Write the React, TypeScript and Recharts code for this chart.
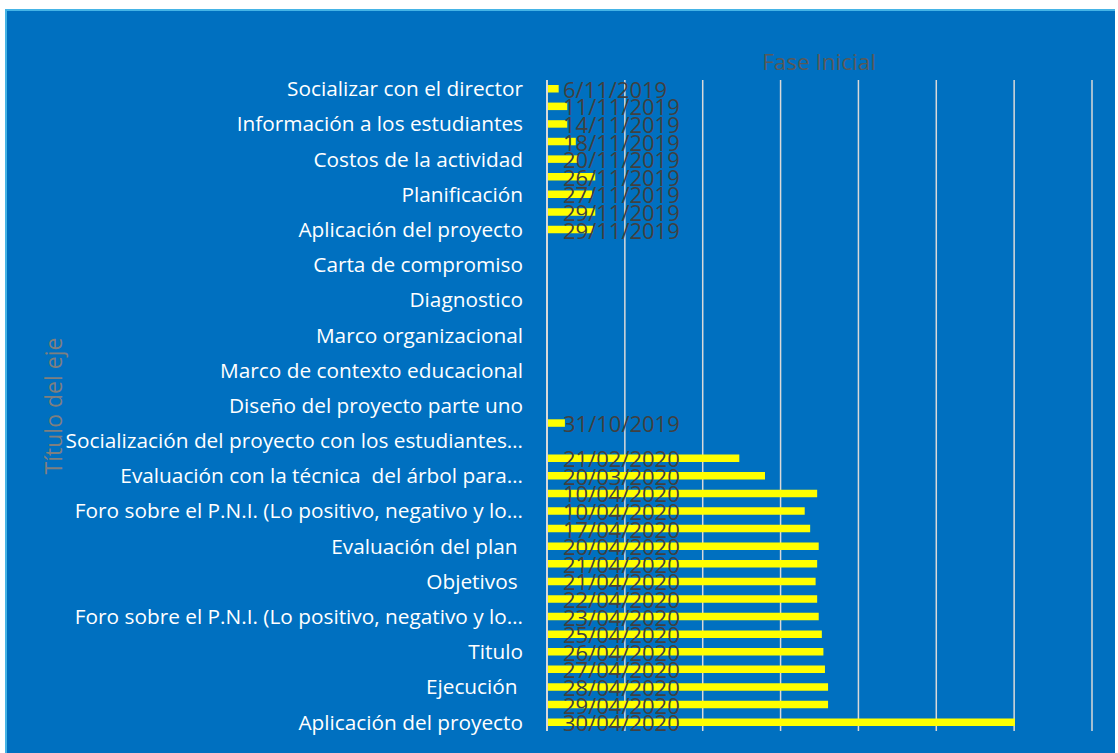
import React from "react";
import { BarChart, Bar, XAxis, YAxis, CartesianGrid, LabelList } from "recharts";

const tasks: string[] = [
  "Socializar con el director", "",
  "Información a los estudiantes", "",
  "Costos de la actividad ", "",
  "Planificación", "",
  "Aplicación del proyecto", "",
  "Carta de compromiso", "",
  "Diagnostico", "",
  "Marco organizacional", "",
  "Marco de contexto educacional", "",
  "Diseño del proyecto parte uno", "",
  "Socialización del proyecto con los estudiantes…", "",
  "Evaluación con la técnica \u00A0del árbol para…", "",
  "Foro sobre el P.N.I. (Lo positivo, negativo y lo…", "",
  "Evaluación del plan\u00A0 ", "",
  "Objetivos\u00A0 ", "",
  "Foro sobre el P.N.I. (Lo positivo, negativo y lo…", "",
  "Titulo", "",
  "Ejecución\u00A0 ", "",
  "Aplicación del proyecto",
];

const values: (number | null)[] = [
  1.5, 2.6, 2.6, 3.7, 4.0, 6.2, 5.8, 6.2, 5.9,
  null, null, null, null, null, null, null, null, null, null,
  2.3,
  null,
  24.7, 28.0, 34.7, 33.1, 33.8, 34.9, 34.7, 34.5, 34.7, 34.9, 35.3, 35.5, 35.7, 36.1, 36.1, 60.1,
];

const dateLabels: string[] = [
  "6/11/2019", "11/11/2019", "14/11/2019", "18/11/2019", "20/11/2019", "26/11/2019", "27/11/2019", "29/11/2019", "29/11/2019",
  "", "", "", "", "", "", "", "", "", "",
  "31/10/2019",
  "",
  "21/02/2020", "20/03/2020", "10/04/2020", "10/04/2020", "17/04/2020", "20/04/2020", "21/04/2020", "21/04/2020",
  "22/04/2020", "23/04/2020", "25/04/2020", "26/04/2020", "27/04/2020", "28/04/2020", "29/04/2020", "30/04/2020",
];

const xTicks = [0, 10, 20, 30, 40, 50, 60, 70];

const data = tasks.map((t, i) => ({ row: i, task: t, value: values[i], date: dateLabels[i] }));

const FONT = "'Open Sans', 'Noto Sans', sans-serif";

const renderLabel = (props: any) => {
  const { x, y, height, value } = props;
  if (!value) return null;
  return (
    <text x={Number(x) + 16} y={Number(y) + Number(height) / 2 + 9} fill="#404040" fontSize={22} fontFamily={FONT}>
      {value}
    </text>
  );
};

export default function App() {
  return (
    <div style={{ position: "absolute", left: 0, top: 0, width: 1118, height: 753, background: "#ffffff", overflow: "hidden" }}>
      <div
        style={{
          position: "absolute",
          left: 5,
          top: 9,
          width: 1110,
          height: 744,
          background: "#0070C0",
          borderTop: "2px solid #45B4E6",
          borderLeft: "2px solid #45B4E6",
          boxSizing: "border-box",
        }}
      />
      <div style={{ position: "absolute", left: 5, top: 9 }}>
        <BarChart
          width={1110}
          height={744}
          data={data}
          layout="vertical"
          margin={{ top: 71, right: 23, bottom: 22, left: 0 }}
          barSize={7.5}
        >
          <CartesianGrid horizontal={false} vertical={true} stroke="#D9D9D9" strokeWidth={1.5} />
          <XAxis type="number" domain={[0, 70]} ticks={xTicks} hide />
          <YAxis
            type="category"
            dataKey="row"
            width={542}
            interval={1}
            tickLine={false}
            tickSize={0}
            tickMargin={24}
            axisLine={{ stroke: "#D9D9D9", strokeWidth: 2 }}
            tickFormatter={(v: any) => tasks[Number(v)]}
            tick={{ fill: "#FFFFFF", fontSize: 20.8, fontFamily: FONT }}
          />
          <Bar dataKey="value" fill="#FFFF00" isAnimationActive={false}>
            <LabelList dataKey="date" content={renderLabel} />
          </Bar>
        </BarChart>
      </div>
      <svg width={1118} height={753} style={{ position: "absolute", left: 0, top: 0, pointerEvents: "none" }}>
        <text x={819} y={70} textAnchor="middle" fontSize={22.5} fontFamily={FONT} fill="#595959">
          Fase Inicial
        </text>
        <text x={62} y={406} textAnchor="middle" fontSize={23} fontFamily={FONT} fill="#7F7F7F" transform="rotate(-90, 62, 406)">
          Título del eje
        </text>
      </svg>
    </div>
  );
}
